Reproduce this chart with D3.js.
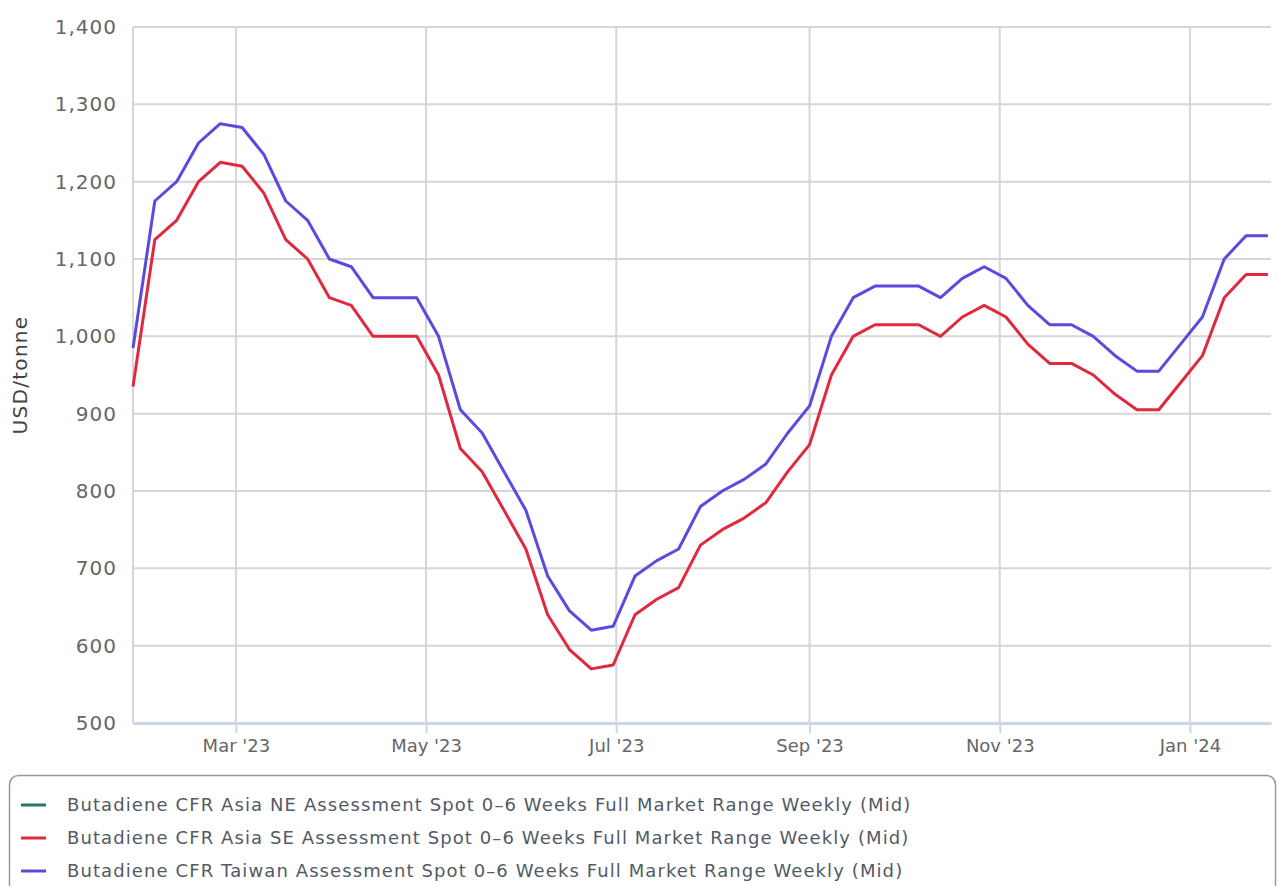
<!DOCTYPE html>
<html>
<head>
<meta charset="utf-8">
<script src="https://cdn.jsdelivr.net/npm/d3@7"></script>
<style>
  html, body { margin: 0; padding: 0; background: #fff; }
  svg { display: block; font-family: "DejaVu Sans", Verdana, sans-serif; }
</style>
</head>
<body>
<svg id="chart" width="1278" height="886"></svg>
<script>
// ---------- data ----------
const dates = [
  "2023-01-27","2023-02-03","2023-02-10","2023-02-17","2023-02-24",
  "2023-03-03","2023-03-10","2023-03-17","2023-03-24","2023-03-31",
  "2023-04-07","2023-04-14","2023-04-21","2023-04-28",
  "2023-05-05","2023-05-12","2023-05-19","2023-05-26",
  "2023-06-02","2023-06-09","2023-06-16","2023-06-23","2023-06-30",
  "2023-07-07","2023-07-14","2023-07-21","2023-07-28",
  "2023-08-04","2023-08-11","2023-08-18","2023-08-25",
  "2023-09-01","2023-09-08","2023-09-15","2023-09-22","2023-09-29",
  "2023-10-06","2023-10-13","2023-10-20","2023-10-27",
  "2023-11-03","2023-11-10","2023-11-17","2023-11-24",
  "2023-12-01","2023-12-08","2023-12-15","2023-12-22","2023-12-29",
  "2024-01-05","2024-01-12","2024-01-19","2024-01-26"
];
const seAsia = [
  935,1125,1150,1200,1225,1220,1185,1125,1100,1050,1040,1000,1000,1000,
  950,855,825,775,725,640,595,570,575,640,660,675,730,750,765,785,825,860,
  950,1000,1015,1015,1015,1000,1025,1040,1025,990,965,965,950,925,905,905,
  940,975,1050,1080,1080
];
const taiwan = [
  985,1175,1200,1250,1275,1270,1235,1175,1150,1100,1090,1050,1050,1050,
  1000,905,875,825,775,690,645,620,625,690,710,725,780,800,815,835,875,910,
  1000,1050,1065,1065,1065,1050,1075,1090,1075,1040,1015,1015,1000,975,955,955,
  990,1025,1100,1130,1130
];
const neAsia = []; // not visible in the plotted range
const yTicks = [500,600,700,800,900,1000,1100,1200,1300,1400];
const seriesNames = [
  "Butadiene CFR Asia NE Assessment Spot 0\u20136 Weeks Full Market Range Weekly (Mid)",
  "Butadiene CFR Asia SE Assessment Spot 0\u20136 Weeks Full Market Range Weekly (Mid)",
  "Butadiene CFR Taiwan Assessment Spot 0\u20136 Weeks Full Market Range Weekly (Mid)"
];
const seriesColors = ["#1f7a6b", "#e0283e", "#5a4be0"];
const yTitle = "USD/tonne";

// ---------- layout ----------
const svg = d3.select("#chart");
const L = 133, R = 1271, T = 27, B = 723;
const parse = d3.utcParse("%Y-%m-%d");
const xDates = dates.map(parse);

const x = d3.scaleUtc()
  .domain([parse("2023-01-27"), parse("2024-01-27")])
  .range([L, R]);
const y = d3.scaleLinear().domain([500, 1400]).range([B, T]);

const gridColor = "#d6d6d6";

// horizontal grid
svg.append("g").selectAll("line").data(yTicks).join("line")
  .attr("x1", L).attr("x2", R)
  .attr("y1", d => y(d)).attr("y2", d => y(d))
  .attr("stroke", gridColor).attr("stroke-width", 2);

// vertical grid
const xTicks = x.ticks(d3.utcMonth.every(2));
svg.append("g").selectAll("line").data(xTicks).join("line")
  .attr("x1", d => x(d)).attr("x2", d => x(d))
  .attr("y1", T).attr("y2", B)
  .attr("stroke", gridColor).attr("stroke-width", 2);

// left border line
svg.append("line").attr("x1", L).attr("x2", L).attr("y1", T).attr("y2", B)
  .attr("stroke", gridColor).attr("stroke-width", 2);

// x axis
const xAxis = d3.axisBottom(x)
  .tickValues(xTicks)
  .tickFormat(d3.utcFormat("%b '%y"))
  .tickSize(10).tickSizeOuter(0).tickPadding(6);
const gx = svg.append("g").attr("transform", `translate(0,${B})`).call(xAxis);
gx.select(".domain").attr("stroke", "#ccd6eb").attr("stroke-width", 3);
gx.selectAll(".tick line").attr("stroke", "#ccd6eb").attr("stroke-width", 2);
gx.selectAll(".tick text").attr("fill", "#666").attr("font-size", 18)
  .attr("font-family", "DejaVu Sans, sans-serif");

// y axis
const yAxis = d3.axisLeft(y).tickValues(yTicks).tickFormat(d3.format(","))
  .tickSize(0).tickPadding(16);
const gy = svg.append("g").attr("transform", `translate(${L},0)`).call(yAxis);
gy.select(".domain").remove();
gy.selectAll(".tick text").attr("fill", "#666").attr("font-size", 20)
  .attr("letter-spacing", 1)
  .attr("font-family", "DejaVu Sans, sans-serif");

// y title
svg.append("text")
  .attr("transform", `translate(27,${(T + B) / 2}) rotate(-90)`)
  .attr("text-anchor", "middle")
  .attr("fill", "#444").attr("font-size", 20).attr("letter-spacing", 1.3)
  .text(yTitle);

// lines
const line = d3.line().x(d => x(d.date)).y(d => y(d.v));
const series = [
  { values: neAsia, color: seriesColors[0] },
  { values: seAsia, color: seriesColors[1] },
  { values: taiwan, color: seriesColors[2] }
];
series.forEach(s => {
  if (!s.values.length) return;
  const pts = s.values.map((v, i) => ({ date: xDates[i], v }));
  svg.append("path").datum(pts)
    .attr("d", line)
    .attr("fill", "none")
    .attr("stroke", s.color)
    .attr("stroke-width", 3)
    .attr("stroke-linejoin", "round");
});

// legend
svg.append("rect")
  .attr("x", 9.5).attr("y", 775.5).attr("width", 1266).attr("height", 130)
  .attr("rx", 9).attr("fill", "#fff").attr("stroke", "#999").attr("stroke-width", 1.5);
const lg = svg.append("g").selectAll("g").data(seriesNames).join("g")
  .attr("transform", (d, i) => `translate(0,${805 + i * 33})`);
lg.append("line").attr("x1", 21).attr("x2", 46).attr("y1", 0).attr("y2", 0)
  .attr("stroke", (d, i) => seriesColors[i]).attr("stroke-width", 3);
lg.append("text").attr("x", 67).attr("y", 6)
  .attr("fill", "#525a66").attr("font-size", 18).attr("letter-spacing", 1.1)
  .text(d => d);
</script>
</body>
</html>
